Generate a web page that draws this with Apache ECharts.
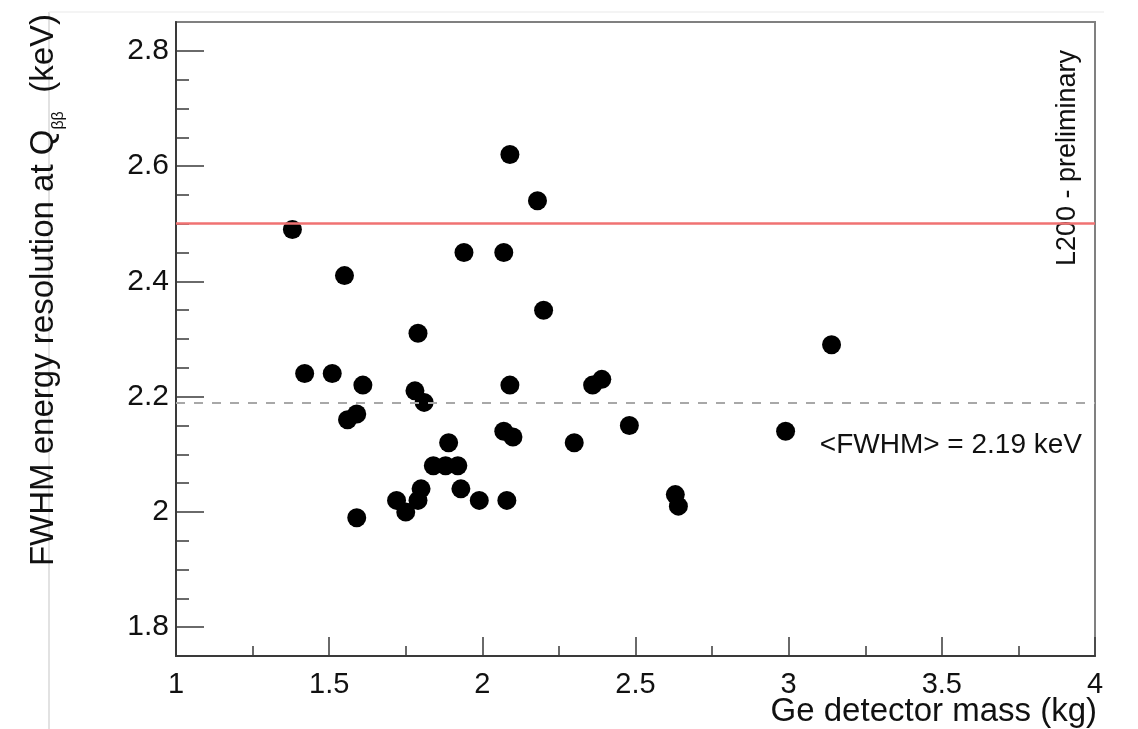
<!DOCTYPE html>
<html>
<head>
<meta charset="utf-8">
<script src="https://cdn.jsdelivr.net/npm/echarts@6/dist/echarts.min.js"></script>
<style>
  html, body { margin: 0; padding: 0; background: #fff; }
  #chart { width: 1138px; height: 729px; }
</style>
</head>
<body>
<div id="chart"></div>
<script>
// Detector mass (kg) and FWHM energy resolution at Q_bb (keV), one entry per detector
const mass = [1.38, 1.55, 1.42, 1.51, 1.61, 1.56, 1.59, 1.59, 1.79, 1.78, 1.81, 1.72, 1.75, 1.79, 1.80,
              1.84, 1.88, 1.92, 1.89, 1.93, 1.99, 1.94, 2.07, 2.09, 2.18, 2.20, 2.09, 2.07, 2.10, 2.08,
              2.30, 2.36, 2.39, 2.48, 2.63, 2.64, 2.99, 3.14];
const fwhm = [2.49, 2.41, 2.24, 2.24, 2.22, 2.16, 2.17, 1.99, 2.31, 2.21, 2.19, 2.02, 2.00, 2.02, 2.04,
              2.08, 2.08, 2.08, 2.12, 2.04, 2.02, 2.45, 2.45, 2.62, 2.54, 2.35, 2.22, 2.14, 2.13, 2.02,
              2.12, 2.22, 2.23, 2.15, 2.03, 2.01, 2.14, 2.29];

// Reference levels
const specLimit = 2.5;   // red line
const meanFwhm = 2.19;   // dashed line

// Axis tick positions
const yLabels = [1.8, 2.0, 2.2, 2.4, 2.6, 2.8];
const yMinor = [];
for (let i = 0; i <= 21; i++) yMinor.push(+(1.75 + i * 0.05).toFixed(2));

const FONT = '"Liberation Sans", Arial, Helvetica, sans-serif';
const points = mass.map((m, i) => [m, fwhm[i]]);

const chart = echarts.init(document.getElementById('chart'), null, { renderer: 'canvas' });

chart.setOption({
  animation: false,
  backgroundColor: '#fff',
  grid: {
    left: 176, right: 43, top: 22, bottom: 73,
    show: true, borderColor: '#808080', borderWidth: 2, backgroundColor: 'transparent'
  },
  xAxis: {
    type: 'value', min: 1, max: 4, interval: 0.5,
    axisLine: { show: true, onZero: false, lineStyle: { color: '#3a3a3a', width: 2 } },
    axisTick: { show: true, inside: true, length: 19, lineStyle: { color: '#3a3a3a', width: 1.5 } },
    minorTick: { show: true, splitNumber: 2, length: 10, lineStyle: { color: '#3a3a3a', width: 1.5 } },
    splitLine: { show: false },
    axisLabel: {
      color: '#111', fontFamily: FONT, fontSize: 29, margin: 14,
      formatter: v => String(+v.toFixed(2))
    }
  },
  yAxis: [{
    type: 'value', min: 1.75, max: 2.85,
    axisLine: { show: true, onZero: false, lineStyle: { color: '#3a3a3a', width: 2 } },
    axisTick: { show: true, inside: true, length: 28, customValues: yLabels, lineStyle: { color: '#3a3a3a', width: 1.5 } },
    splitLine: { show: false },
    axisLabel: {
      customValues: yLabels,
      color: '#111', fontFamily: FONT, fontSize: 30, margin: 7,
      formatter: v => String(+v.toFixed(1))
    }
  }, {
    // minor ticks every 0.05
    type: 'value', min: 1.75, max: 2.85, position: 'left',
    axisLine: { show: false },
    axisTick: { show: true, inside: true, length: 13, customValues: yMinor, lineStyle: { color: '#3a3a3a', width: 1.5 } },
    axisLabel: { show: false },
    splitLine: { show: false }
  }],
  series: [{
    type: 'scatter',
    data: points,
    symbol: 'circle',
    symbolSize: 19,
    itemStyle: { color: '#000', opacity: 1 },
    z: 2
  }, {
    // reference levels drawn on top of the markers
    type: 'line',
    data: [],
    z: 5,
    markLine: {
      silent: true,
      symbol: 'none',
      label: { show: false },
      z: 5,
      data: [
        { yAxis: specLimit, lineStyle: { color: '#f07272', width: 2.5, type: 'solid', opacity: 1 } },
        { yAxis: meanFwhm, lineStyle: { color: '#a8a8a8', width: 2, type: [9, 9], opacity: 1 } }
      ]
    }
  }],
  graphic: [
    { type: 'line', shape: { x1: 49, y1: 12, x2: 49, y2: 729 }, style: { stroke: '#e2e2e2', lineWidth: 2 }, silent: true },
    { type: 'line', shape: { x1: 49, y1: 12, x2: 1104, y2: 12 }, style: { stroke: '#f0f0f0', lineWidth: 1.5 }, silent: true },
    {
      type: 'text', x: 41, y: 14, rotation: Math.PI / 2,
      style: {
        text: '{a|FWHM energy resolution at Q}{s|ββ}{a|  (keV)}',
        align: 'right', verticalAlign: 'middle',
        fill: '#111', font: '33px ' + FONT,
        rich: {
          a: { fontSize: 33, fontFamily: FONT, fill: '#111', lineHeight: 38, verticalAlign: 'bottom' },
          s: { fontSize: 16, fontFamily: FONT, fill: '#111', lineHeight: 38, verticalAlign: 'bottom', padding: [0, 0, -7, 0] }
        }
      }
    },
    {
      type: 'text', x: 1068, y: 50, rotation: Math.PI / 2,
      style: { text: 'L200 - preliminary', align: 'right', verticalAlign: 'middle', fill: '#111', font: '27px ' + FONT }
    },
    {
      type: 'text', x: 1082, y: 445,
      style: { text: '<FWHM> = ' + meanFwhm.toFixed(2) + ' keV', align: 'right', verticalAlign: 'middle', fill: '#111', font: '28px ' + FONT }
    },
    {
      type: 'text', x: 1097, y: 712,
      style: { text: 'Ge detector mass (kg)', align: 'right', verticalAlign: 'middle', fill: '#111', font: '33px ' + FONT }
    }
  ]
});
</script>
</body>
</html>
